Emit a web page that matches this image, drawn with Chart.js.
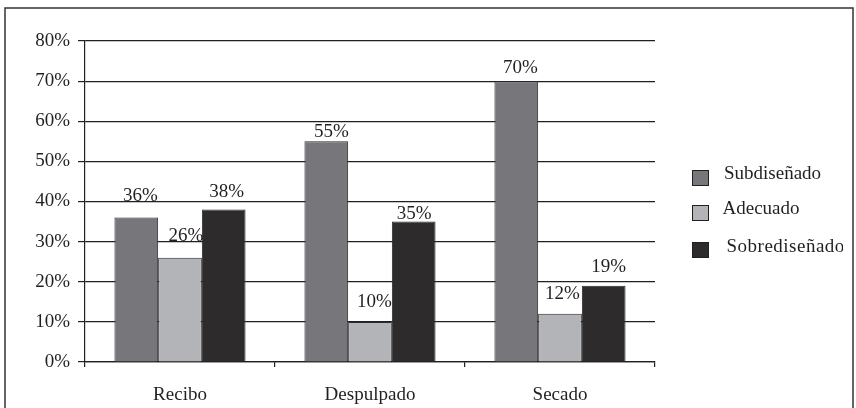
<!DOCTYPE html>
<html>
<head>
<meta charset="utf-8">
<script src="https://cdn.jsdelivr.net/npm/chart.js@4/dist/chart.umd.min.js"></script>
<style>
  html, body { margin: 0; padding: 0; background: #ffffff; }
  #wrap { width: 856px; height: 408px; position: relative; }
</style>
</head>
<body>
<div id="wrap"><canvas id="c" width="856" height="408"></canvas></div>
<script>
// Stages of the process and the share of each design outcome (percent)
const categories = ['Recibo', 'Despulpado', 'Secado'];
const seriesNames = ['Subdiseñado', 'Adecuado', 'Sobrediseñado'];
const subdisenado = [36, 55, 70];
const adecuado = [26, 10, 12];
const sobredisenado = [38, 35, 19];
const yTicks = [0, 10, 20, 30, 40, 50, 60, 70, 80];

const INK = '#231f20';
const FONT = "'Liberation Serif', 'Times New Roman', serif";
const fills = ['#77777b', '#b3b4b8', '#2d2b2c'];

// Hand placement of the value labels: [dx, lift above bar top] per dataset/category
const labelNudge = [
  [[4, 16.5], [5, 4], [4, 8.5]],
  [[6, 17], [4.5, 15], [2.5, 14.5]],
  [[3, 13], [0.5, 2.6], [5, 14]]
];

// Value labels go under the bars so a neighbouring bar can cover them
const valueLabels = {
  id: 'valueLabels',
  beforeDatasetsDraw(chart) {
    const ctx = chart.ctx;
    ctx.save();
    ctx.font = '19px ' + FONT;
    ctx.fillStyle = INK;
    ctx.textAlign = 'center';
    ctx.textBaseline = 'alphabetic';
    chart.data.datasets.forEach((ds, di) => {
      const meta = chart.getDatasetMeta(di);
      meta.data.forEach((bar, i) => {
        const [dx, lift] = labelNudge[di][i];
        ctx.fillText(ds.data[i] + '%', bar.x + dx, bar.y - lift);
      });
    });
    ctx.restore();
  }
};

// Legend at the right and the frame around the figure
const sideLegend = {
  id: 'sideLegend',
  afterDraw(chart) {
    const ctx = chart.ctx;
    ctx.save();
    const boxTops = [170, 205, 242];
    const baselines = [178.5, 213.5, 251.5];
    const textX = [724, 722.5, 726.5];
    const spacing = ['0px', '0px', '0.5px'];
    chart.data.datasets.forEach((ds, di) => {
      ctx.fillStyle = ds.backgroundColor;
      ctx.fillRect(692.5, boxTops[di], 16, 15);
      ctx.strokeStyle = INK;
      ctx.lineWidth = 1;
      ctx.strokeRect(692.5, boxTops[di] + 0.5, 16, 15);
    });
    ctx.beginPath();
    ctx.rect(0, 0, 843, 408);
    ctx.clip();
    ctx.font = '19px ' + FONT;
    ctx.fillStyle = INK;
    ctx.textAlign = 'left';
    ctx.textBaseline = 'alphabetic';
    chart.data.datasets.forEach((ds, di) => {
      ctx.letterSpacing = spacing[di];
      ctx.fillText(ds.label, textX[di], baselines[di]);
    });
    ctx.restore();

    ctx.save();
    ctx.strokeStyle = '#333333';
    ctx.lineWidth = 1.5;
    ctx.strokeRect(5, 8, 848, 420);
    ctx.restore();
  }
};

const seriesValues = [subdisenado, adecuado, sobredisenado];

new Chart(document.getElementById('c'), {
  type: 'bar',
  data: {
    labels: categories,
    datasets: seriesNames.map((name, i) => ({
      label: name,
      data: seriesValues[i],
      backgroundColor: fills[i],
      borderColor: '#2a2a2a',
      borderWidth: 1,
      categoryPercentage: 0.69,
      barPercentage: 1.0
    }))
  },
  options: {
    responsive: false,
    animation: false,
    devicePixelRatio: 1,
    layout: { padding: { top: 41, right: 201, left: 0, bottom: 0 } },
    plugins: {
      legend: { display: false },
      tooltip: { enabled: false }
    },
    scales: {
      x: {
        afterFit(scale) { scale.height = 46; },
        grid: {
          offset: true,
          drawOnChartArea: false,
          drawTicks: true,
          tickLength: 5,
          color: INK,
          lineWidth: 1.2
        },
        border: { display: true, color: INK, width: 1.2 },
        ticks: {
          color: INK,
          font: { family: FONT, size: 19 },
          padding: 17
        }
      },
      y: {
        min: 0,
        max: 80,
        afterFit(scale) { scale.width = 85; },
        afterBuildTicks(scale) { scale.ticks = yTicks.map(v => ({ value: v })); },
        grid: {
          color: INK,
          lineWidth: 1.2,
          drawTicks: true,
          tickLength: 7
        },
        border: { display: true, color: INK, width: 1.2 },
        ticks: {
          color: INK,
          font: { family: FONT, size: 19 },
          padding: 8,
          callback: (v) => v + '%'
        }
      }
    }
  },
  plugins: [valueLabels, sideLegend]
});
</script>
</body>
</html>
